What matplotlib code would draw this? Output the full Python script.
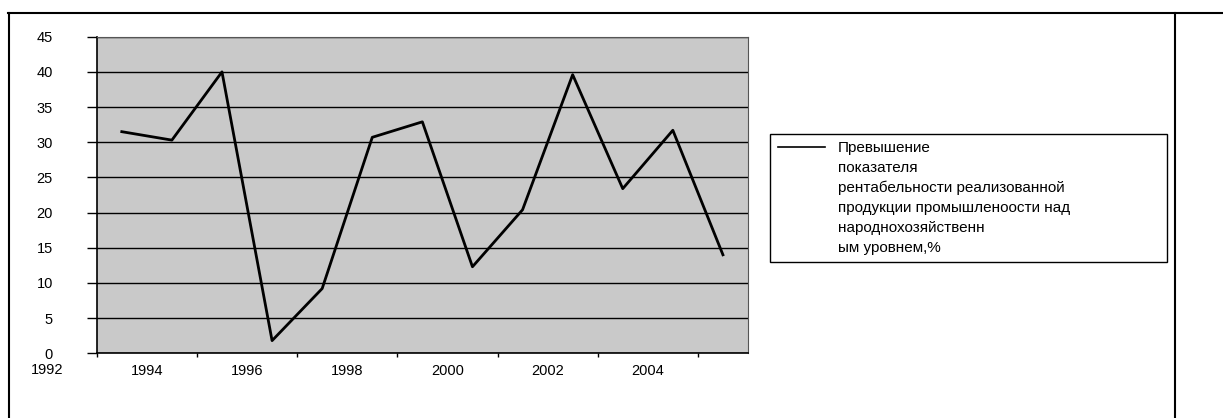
import matplotlib.pyplot as plt
from matplotlib.lines import Line2D

plt.rcParams['font.family'] = ['Liberation Sans', 'DejaVu Sans']

# data
years = [1993.5, 1994.5, 1995.5, 1996.5, 1997.5, 1998.5, 1999.5,
         2000.5, 2001.5, 2002.5, 2003.5, 2004.5, 2005.5]
excess = [31.5, 30.3, 40.0, 1.8, 9.2, 30.7, 32.9,
          12.3, 20.4, 39.6, 23.4, 31.7, 14.0]
year_labels = [1994, 1996, 1998, 2000, 2002, 2004]
y_ticks = list(range(0, 50, 5))
legend_lines = ['Превышение',
                'показателя',
                'рентабельности реализованной',
                'продукции промышленоости над',
                'народнохозяйственн',
                'ым уровнем,%']

fig = plt.figure(figsize=(12.23, 4.18), dpi=100)
ax = fig.add_axes([0.0791, 0.1548, 0.5325, 0.7574])
ax.set_facecolor('#c9c9c9')

line, = ax.plot(years, excess, color='black', lw=2)

ax.set_xlim(1993, 2006)
ax.set_ylim(0, 45)

# y axis
ax.set_yticks(y_ticks)
ax.yaxis.grid(True, color='black', lw=1)
ax.set_axisbelow(True)
ax.tick_params(axis='y', length=7.5, width=1, pad=24, labelsize=10.5)

# x axis: labels between the tick marks, like the original category axis
ax.set_xticks(year_labels)
ax.set_xticks(range(1993, 2006, 2), minor=True)
ax.tick_params(axis='x', which='major', length=0, pad=8, labelsize=10.5)
ax.tick_params(axis='x', which='minor', length=3, width=1)
ax.text(1992, -1.4, '1992', ha='center', va='top', fontsize=10.5,
        clip_on=False)

for side in ['left', 'bottom']:
    ax.spines[side].set_color('black')
    ax.spines[side].set_linewidth(1.2)
for side in ['top', 'right']:
    ax.spines[side].set_color('#555555')
    ax.spines[side].set_linewidth(0.8)

# legend, handle only next to the first line of the label
blank = Line2D([], [], color='none')
leg = fig.legend([line] + [blank] * 5, legend_lines,
                 loc='upper left', bbox_to_anchor=(0.630, 0.383, 0.324, 0.297),
                 mode='expand', fontsize=11, frameon=True, fancybox=False,
                 edgecolor='black', framealpha=1, handlelength=3.1,
                 handletextpad=0.8, labelspacing=0.38, borderpad=0.5,
                 borderaxespad=0)
leg.get_frame().set_linewidth(1)
leg.legend_handles[0].set_linewidth(1.2)

# outer frame of the chart
fig.add_artist(Line2D([8 / 1223, 1], [1 - 13 / 418] * 2, color='black', lw=1.5))
fig.add_artist(Line2D([9 / 1223] * 2, [0, 1 - 13 / 418], color='black', lw=1.5))
fig.add_artist(Line2D([1175 / 1223] * 2, [0, 1 - 13 / 418], color='black', lw=1.5))

fig.savefig('out.png', dpi=100)
